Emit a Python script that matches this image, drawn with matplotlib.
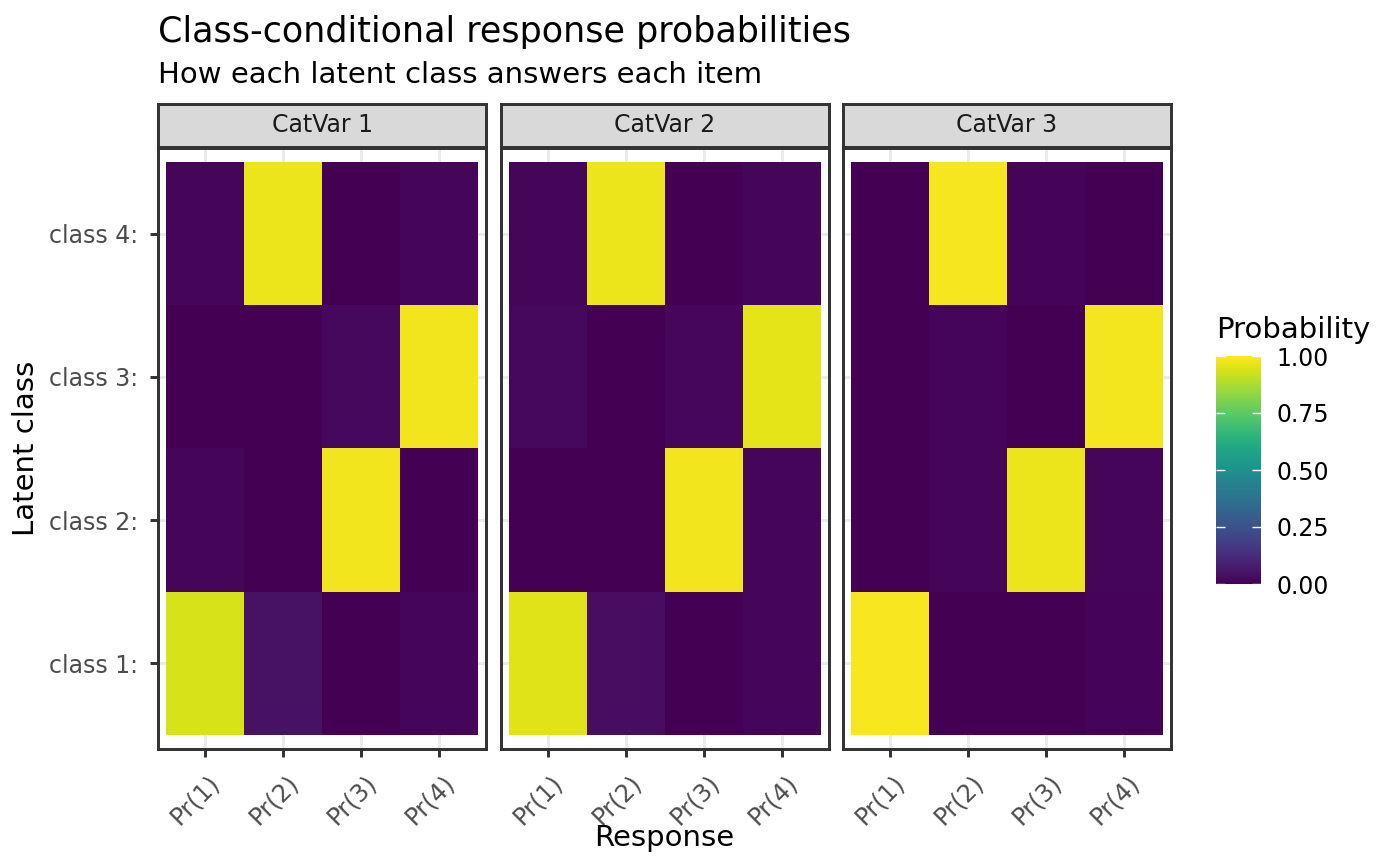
import matplotlib
matplotlib.use('Agg')
import matplotlib.pyplot as plt
import numpy as np
from matplotlib.cm import ScalarMappable
from matplotlib.colors import Normalize
from matplotlib.transforms import ScaledTranslation

# class-conditional probabilities; rows = class 1..4, cols = Pr(1)..Pr(4)
catvar_names = ['CatVar 1', 'CatVar 2', 'CatVar 3']
class_labels = ['class 1:', 'class 2:', 'class 3:', 'class 4:']
response_labels = ['Pr(1)', 'Pr(2)', 'Pr(3)', 'Pr(4)']

catvar1 = [[0.940, 0.045, 0.003, 0.012],
           [0.015, 0.003, 0.980, 0.002],
           [0.000, 0.000, 0.020, 0.980],
           [0.015, 0.970, 0.002, 0.013]]
catvar2 = [[0.950, 0.035, 0.002, 0.013],
           [0.003, 0.003, 0.980, 0.014],
           [0.020, 0.003, 0.017, 0.960],
           [0.015, 0.970, 0.002, 0.013]]
catvar3 = [[0.990, 0.001, 0.001, 0.008],
           [0.003, 0.013, 0.970, 0.014],
           [0.003, 0.012, 0.002, 0.983],
           [0.002, 0.985, 0.011, 0.002]]
panels = [catvar1, catvar2, catvar3]

W, H = 1400, 866
fig = plt.figure(figsize=(W / 200, H / 200), dpi=200)
plt.rcParams['font.family'] = 'DejaVu Sans'

SMALL = 8.5   # tick labels, strip text
MED = 10.5    # axis titles, subtitle, legend title
BIG = 12.6    # title


def fx(px):
    return px / W


def fy(py):
    return 1 - py / H


LW = 1.07
norm = Normalize(0, 1)
cmap = plt.get_cmap('viridis')
panel_left = [158, 501, 843]
panel_w = 328
panel_top, panel_bot = 148, 749
strip_top = 104

for i, (name, vals) in enumerate(zip(catvar_names, panels)):
    left = panel_left[i]
    ax = fig.add_axes([fx(left), fy(panel_bot), panel_w / W, (panel_bot - panel_top) / H])
    edges = np.arange(0.5, 5.0, 1.0)
    ax.pcolormesh(edges, edges, np.array(vals), cmap=cmap, norm=norm, zorder=2)
    ax.set_xlim(0.4, 4.6)
    ax.set_ylim(0.4, 4.6)
    ax.set_xticks(range(1, 5))
    ax.set_yticks(range(1, 5))
    ax.grid(True, color='#EBEBEB', linewidth=LW, zorder=0)
    ax.set_axisbelow(True)
    for sp in ax.spines.values():
        sp.set_color('#333333')
        sp.set_linewidth(LW)
        sp.set_zorder(3)
    ax.tick_params(length=2.75, width=LW, color='#333333', labelsize=SMALL,
                   labelcolor='#4D4D4D')
    ax.set_xticklabels(response_labels, rotation=45, ha='right', va='top',
                       rotation_mode='anchor', fontsize=8.8)
    ax.tick_params(axis='x', pad=4.8)
    for lab in ax.get_xticklabels():
        lab.set_transform(lab.get_transform() + ScaledTranslation(0.015, 0, fig.dpi_scale_trans))
    if i == 0:
        ax.set_yticklabels(class_labels)
        ax.tick_params(axis='y', pad=4.5)
    else:
        ax.set_yticklabels([])
        ax.tick_params(axis='y', length=0)

    sax = fig.add_axes([fx(left), fy(panel_top - 1), panel_w / W, (panel_top - 1 - strip_top) / H])
    sax.set_facecolor('#D9D9D9')
    sax.set_xticks([])
    sax.set_yticks([])
    for sp in sax.spines.values():
        sp.set_color('#333333')
        sp.set_linewidth(LW)
    sax.text(0.5, 0.5, name, ha='center', va='center', fontsize=SMALL,
             color='#1A1A1A', transform=sax.transAxes)

# colourbar legend
cax = fig.add_axes([fx(1216), fy(584), 45 / W, (584 - 356) / H])
cb = fig.colorbar(ScalarMappable(norm=norm, cmap=cmap), cax=cax,
                  ticks=[0, 0.25, 0.5, 0.75, 1.0])
cb.outline.set_visible(False)
cb.ax.set_yticklabels(['0.00', '0.25', '0.50', '0.75', '1.00'])
cax.tick_params(direction='in', length=3.24, width=0.5, color='white',
                left=True, right=True, labelsize=SMALL, labelcolor='black', pad=5.5)

fig.text(fx(1216), fy(338), 'Probability', fontsize=MED, va='baseline')
fig.text(fx(158), fy(42), 'Class-conditional response probabilities',
         fontsize=BIG, va='baseline')
fig.text(fx(158), fy(83), 'How each latent class answers each item',
         fontsize=MED, va='baseline')
fig.text(fx(664.5), fy(846), 'Response', fontsize=MED, ha='center', va='baseline')
fig.text(fx(26), fy(448.5), 'Latent class', fontsize=MED, rotation=90,
         ha='center', va='center')

fig.savefig('out.png', dpi=200)
plt.close(fig)
